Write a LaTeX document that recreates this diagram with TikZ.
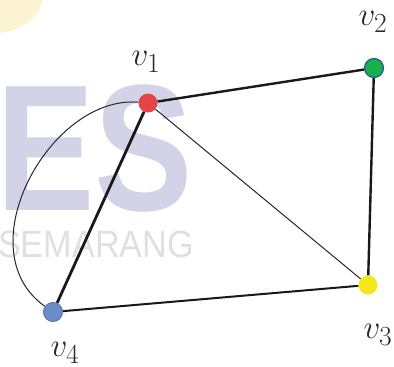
\documentclass[tikz,border=0pt]{standalone}
\usepackage{graphicx}
\usepackage{fontspec}
\newfontfamily\wmfont{Liberation Sans}
\newcommand{\vlbl}[1]{\scalebox{1.33}{$v_{#1}$}}
\definecolor{vRed}{HTML}{E8434B}
\definecolor{vGreen}{HTML}{17B04C}
\definecolor{vGreenRim}{HTML}{2E5597}
\definecolor{vYellow}{HTML}{F4E81A}
\definecolor{vBlue}{HTML}{6A8CC7}
\definecolor{vBlueRim}{HTML}{5677B2}
\definecolor{wmLilac}{HTML}{D3D3E7}
\definecolor{wmGray}{HTML}{E0E0E0}
\definecolor{wmGlow}{HTML}{FDF4D3}
\definecolor{lblInk}{HTML}{2A2A2A}
\begin{document}
\begin{tikzpicture}[x=1pt,y=-1pt]
\tikzset{
    grVertex/.style={circle,inner sep=0pt,minimum size=19pt},
    grLabel/.style={text=lblInk,font=\Huge,inner sep=0pt},
    grThick/.style={line width=2.4pt,black!90},
    grThin/.style={line width=1pt,black!85},
}
\useasboundingbox (0,0) rectangle (394,367);

% faded watermark in the background
\begin{scope}
\clip (0,0) rectangle (394,367);
\fill[wmGlow] (-5,-5) ellipse (48pt and 38pt);
\node[text=wmLilac,font=\wmfont\bfseries\fontsize{180}{180}\selectfont,xscale=0.82,
      anchor=base west,inner sep=0pt,text height=129pt,text depth=0pt] (wmBig) at (-4,210) {ES};
\node[text=wmGray,font=\wmfont\fontsize{38}{38}\selectfont,xscale=0.9,
      anchor=base west,inner sep=0pt,text height=27pt,text depth=0pt] (wmSmall) at (-2,257) {SEMARANG};
\end{scope}

% vertices
\node[grVertex,fill=vRed] (v1) at (148,103) {};
\node[grVertex,fill=vGreen,draw=vGreenRim,line width=1.2pt] (v2) at (374,68) {};
\node[grVertex,fill=vYellow] (v3) at (368,285) {};
\node[grVertex,fill=vBlue,draw=vBlueRim,line width=1pt] (v4) at (53,312) {};

% labels
\node[grLabel] (l1) at (146,62) {\vlbl{1}};
\node[grLabel] (l2) at (373,22) {\vlbl{2}};
\node[grLabel] (l3) at (378,335) {\vlbl{3}};
\node[grLabel] (l4) at (65,353) {\vlbl{4}};

% edges
\draw[grThick] (v1) -- (v2);
\draw[grThick] (v2) -- (v3);
\draw[grThick,line width=2pt] (v3) -- (v4);
\draw[grThick,line width=2.8pt] (v4) -- (v1);
\draw[grThin] (v1) -- (v3);
\draw[grThin] (v1) .. controls (50,95) and (-35,250) .. (v4);
\end{tikzpicture}
\end{document}
